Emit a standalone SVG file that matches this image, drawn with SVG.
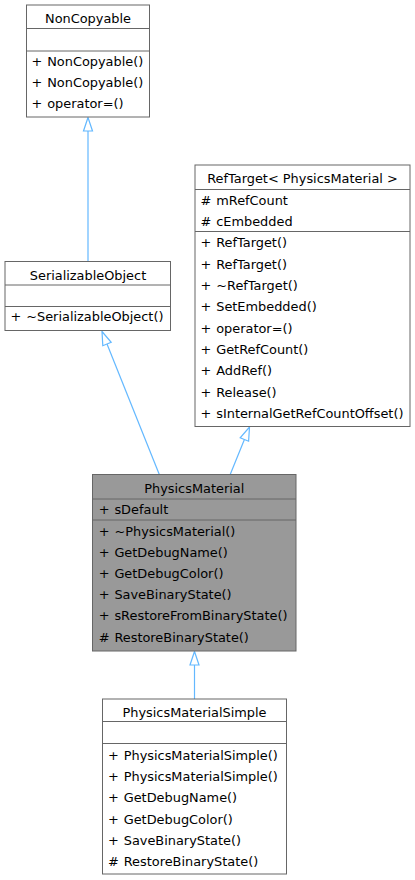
<svg xmlns="http://www.w3.org/2000/svg" width="415" height="880" viewBox="0 0 415 880">
<style>
.box{fill:#ffffff;stroke:#666666;stroke-width:1}
.cur{fill:#999999;stroke:#666666;stroke-width:1}
.sep{stroke:#666666;stroke-width:1}
text{font-family:"DejaVu Sans",Verdana,sans-serif;font-size:12.9px;fill:#000000}
.t{text-anchor:middle}
.m{word-spacing:0.8px}
.edge{stroke:#63b8ff;stroke-width:1.2;fill:none}
.head{stroke:#63b8ff;stroke-width:1.2;fill:#ffffff}
</style>
<rect width="415" height="880" fill="#ffffff"/>
<g id="connectors">
<line class="edge" x1="88" y1="131" x2="88" y2="261.5"/>
<polygon class="head" points="88,117.5 92.5,131 83.5,131"/>
<line class="edge" x1="159.5" y1="475" x2="107" y2="344"/>
<polygon class="head" points="102,331.5 111.2,342.3 102.8,345.7"/>
<line class="edge" x1="230" y1="475" x2="244.4" y2="439.5"/>
<polygon class="head" points="249.5,427 248.6,441.2 240.2,437.8"/>
<line class="edge" x1="194.5" y1="665" x2="194.5" y2="699"/>
<polygon class="head" points="194.5,651.5 199,665 190,665"/>
</g>
<g id="NonCopyable">
<rect class="box" x="26.5" y="5" width="123" height="112"/>
<line class="sep" x1="26.5" y1="28.5" x2="149.5" y2="28.5"/>
<line class="sep" x1="26.5" y1="51" x2="149.5" y2="51"/>
<text class="t" x="88" y="23">NonCopyable</text>
<text class="m" x="31.5" y="66">+ NonCopyable()</text>
<text class="m" x="31.5" y="87">+ NonCopyable()</text>
<text class="m" x="31.5" y="108">+ operator=()</text>
</g>
<g id="SerializableObject">
<rect class="box" x="5" y="261.5" width="165.5" height="69"/>
<line class="sep" x1="5" y1="285" x2="170.5" y2="285"/>
<line class="sep" x1="5" y1="306.5" x2="170.5" y2="306.5"/>
<text class="t" x="88" y="279.5">SerializableObject</text>
<text class="m" x="10.5" y="321">+ ~SerializableObject()</text>
</g>
<g id="RefTarget">
<rect class="box" x="195" y="165" width="215" height="261.5"/>
<line class="sep" x1="195" y1="189.5" x2="410" y2="189.5"/>
<line class="sep" x1="195" y1="231.5" x2="410" y2="231.5"/>
<text class="t" x="302.5" y="183">RefTarget&lt; PhysicsMaterial &gt;</text>
<text class="m" x="200.5" y="204.5"># mRefCount</text>
<text class="m" x="200.5" y="226"># cEmbedded</text>
<text class="m" x="200.5" y="247.2">+ RefTarget()</text>
<text class="m" x="200.5" y="268.5">+ RefTarget()</text>
<text class="m" x="200.5" y="289.8">+ ~RefTarget()</text>
<text class="m" x="200.5" y="311.2">+ SetEmbedded()</text>
<text class="m" x="200.5" y="332.5">+ operator=()</text>
<text class="m" x="200.5" y="353.8">+ GetRefCount()</text>
<text class="m" x="200.5" y="375.2">+ AddRef()</text>
<text class="m" x="200.5" y="396.5">+ Release()</text>
<text class="m" x="200.5" y="417.8">+ sInternalGetRefCountOffset()</text>
</g>
<g id="PhysicsMaterial">
<rect class="cur" x="92.5" y="474.5" width="203.5" height="176.5"/>
<line class="sep" x1="92.5" y1="499" x2="296" y2="499"/>
<line class="sep" x1="92.5" y1="520" x2="296" y2="520"/>
<text class="t" x="194.25" y="493">PhysicsMaterial</text>
<text class="m" x="98.7" y="514">+ sDefault</text>
<text class="m" x="98.7" y="535.5">+ ~PhysicsMaterial()</text>
<text class="m" x="98.7" y="556.7">+ GetDebugName()</text>
<text class="m" x="98.7" y="577.9">+ GetDebugColor()</text>
<text class="m" x="98.7" y="599.1">+ SaveBinaryState()</text>
<text class="m" x="98.7" y="620.3">+ sRestoreFromBinaryState()</text>
<text class="m" x="98.7" y="641.5"># RestoreBinaryState()</text>
</g>
<g id="PhysicsMaterialSimple">
<rect class="box" x="102.5" y="699" width="184" height="175"/>
<line class="sep" x1="102.5" y1="721.5" x2="286.5" y2="721.5"/>
<line class="sep" x1="102.5" y1="743.5" x2="286.5" y2="743.5"/>
<text class="t" x="194.5" y="717">PhysicsMaterialSimple</text>
<text class="m" x="108" y="760">+ PhysicsMaterialSimple()</text>
<text class="m" x="108" y="781.2">+ PhysicsMaterialSimple()</text>
<text class="m" x="108" y="802.4">+ GetDebugName()</text>
<text class="m" x="108" y="823.6">+ GetDebugColor()</text>
<text class="m" x="108" y="844.8">+ SaveBinaryState()</text>
<text class="m" x="108" y="866"># RestoreBinaryState()</text>
</g>
</svg>
